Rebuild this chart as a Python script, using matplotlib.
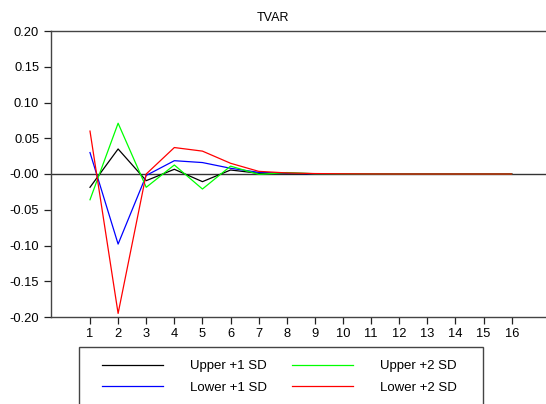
import matplotlib
matplotlib.use("Agg")
import matplotlib.pyplot as plt
from matplotlib.patches import Rectangle

plt.rcParams["font.family"] = ["Liberation Sans", "DejaVu Sans"]

periods = list(range(1, 17))
upper_1sd = [-0.0186, 0.035, -0.0093, 0.0066, -0.0107, 0.0056, 0.001, 0.0005,
             0.0003, 0.0001, 0.0, 0.0, 0.0, 0.0, 0.0, 0.0]
lower_1sd = [0.030, -0.098, -0.002, 0.0186, 0.016, 0.008, 0.0023, 0.001,
             0.0004, 0.0002, 0.0001, 0.0, 0.0, 0.0, 0.0, 0.0]
upper_2sd = [-0.036, 0.071, -0.0186, 0.0126, -0.021, 0.011, -0.0005, 0.002,
             0.0004, 0.0002, 0.0001, 0.0, 0.0, 0.0, 0.0, 0.0]
lower_2sd = [0.060, -0.195, 0.0, 0.037, 0.032, 0.015, 0.0037, 0.0015,
             0.0006, 0.0003, 0.0001, 0.0, 0.0, 0.0, 0.0, 0.0]

yticks = [0.20, 0.15, 0.10, 0.05, 0.0, -0.05, -0.10, -0.15, -0.20]
ytick_labels = ["0.20", "0.15", "0.10", "0.05", "-0.00", "-0.05", "-0.10", "-0.15", "-0.20"]

W, H = 546, 404
fig = plt.figure(figsize=(W / 100, H / 100), dpi=100)
ax = fig.add_axes([51 / W, 87 / H, 495 / W, 286 / H])

ax.axhline(0, color="#333333", lw=1.0, zorder=1)
l1, = ax.plot(periods, upper_1sd, color="black", lw=0.9, label="Upper +1 SD")
l2, = ax.plot(periods, lower_1sd, color="#0000ff", lw=0.9, label="Lower +1 SD")
l3, = ax.plot(periods, upper_2sd, color="#00ff00", lw=0.9, label="Upper +2 SD")
l4, = ax.plot(periods, lower_2sd, color="#ff0000", lw=0.9, label="Lower +2 SD")

ax.set_xlim(-0.387, 17.22)
ax.set_ylim(-0.20, 0.20)
ax.set_xticks(periods)
ax.set_yticks(yticks)
ax.set_yticklabels(ytick_labels)
ax.tick_params(labelsize=9.3, direction="out", length=5, width=0.9, colors="#222222",
               labelcolor="black")
ax.tick_params(axis="x", pad=3)
ax.spines["right"].set_visible(False)
for side in ["left", "top", "bottom"]:
    ax.spines[side].set_color("#444444")
    ax.spines[side].set_linewidth(1.0)

fig.text(0.5, 1 - 18 / H, "TVAR", ha="center", va="center", fontsize=9)

# legend frame runs off the bottom edge, like the original export
fig.patches.append(Rectangle((79 / W, -20 / H), 404 / W, (H - 347 + 20) / H,
                             transform=fig.transFigure, fill=False,
                             edgecolor="#444444", lw=1.0))
leg = fig.legend(handles=[l1, l2, l3, l4], ncol=2, loc="upper left",
                 bbox_to_anchor=(102 / W, 1 - 360 / H),
                 fontsize=9.5, handlelength=4.6, handletextpad=2.05,
                 columnspacing=1.9, borderpad=0, labelspacing=0.72,
                 borderaxespad=0, frameon=False)

fig.savefig("out.png", dpi=100)
